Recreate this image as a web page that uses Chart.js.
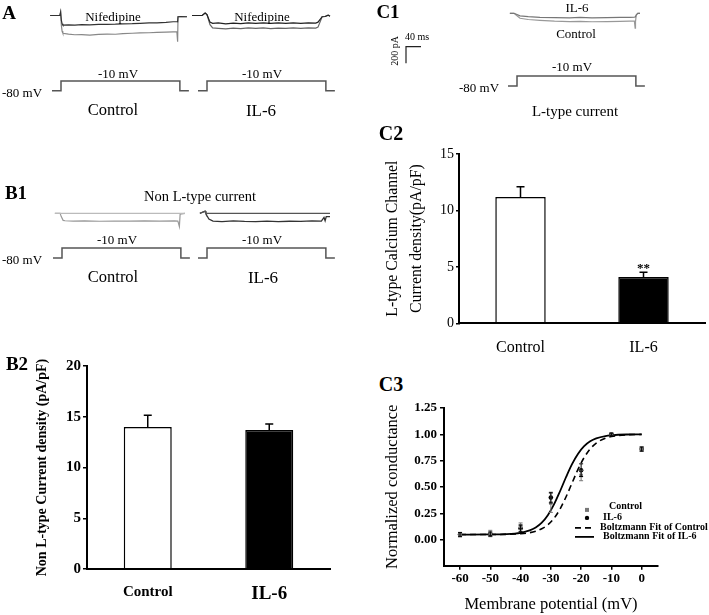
<!DOCTYPE html>
<html>
<head>
<meta charset="utf-8">
<title>IL-6 and calcium currents</title>
<script src="https://cdn.jsdelivr.net/npm/chart.js@4.4.1/dist/chart.umd.min.js"></script>
<style>
  html, body { margin: 0; padding: 0; background: #fff; }
  #fig { position: relative; width: 709px; height: 615px; overflow: hidden; font-family: 'Liberation Serif', 'Times New Roman', serif; color: #000; }
  #fig canvas { position: absolute; }
  .t { position: absolute; transform: translate(-50%, -50%); white-space: nowrap; line-height: 1; }
  .panel { font-weight: bold; font-size: 19px; }
</style>
</head>
<body>
<div id="fig">
  <canvas id="traceA" width="360" height="100" style="left:0;top:0"></canvas>
  <canvas id="traceB1" width="360" height="70" style="left:0;top:200px"></canvas>
  <canvas id="traceC1" width="349" height="95" style="left:360px;top:0"></canvas>
  <canvas id="barB2" width="360" height="275" style="left:0;top:340px"></canvas>
  <canvas id="barC2" width="349" height="220" style="left:360px;top:140px"></canvas>
  <canvas id="fitC3" width="349" height="220" style="left:360px;top:395px"></canvas>

  <!-- panel A -->
  <div class="t panel" style="left:9px;top:12px">A</div>
  <div class="t" style="left:113px;top:16px;font-size:13px">Nifedipine</div>
  <div class="t" style="left:262px;top:16px;font-size:13px">Nifedipine</div>
  <div class="t" style="left:118px;top:73px;font-size:13px">-10 mV</div>
  <div class="t" style="left:262px;top:73px;font-size:13px">-10 mV</div>
  <div class="t" style="left:22px;top:92px;font-size:13px">-80 mV</div>
  <div class="t" style="left:113px;top:110px;font-size:16.5px">Control</div>
  <div class="t" style="left:261px;top:110px;font-size:17px">IL-6</div>

  <!-- panel B1 -->
  <div class="t panel" style="left:16px;top:192px">B1</div>
  <div class="t" style="left:200px;top:196px;font-size:14.5px">Non L-type current</div>
  <div class="t" style="left:117px;top:239px;font-size:13px">-10 mV</div>
  <div class="t" style="left:262px;top:239px;font-size:13px">-10 mV</div>
  <div class="t" style="left:22px;top:259px;font-size:13px">-80 mV</div>
  <div class="t" style="left:113px;top:277px;font-size:16.5px">Control</div>
  <div class="t" style="left:263px;top:277px;font-size:17px">IL-6</div>

  <!-- panel C1 -->
  <div class="t panel" style="left:388px;top:11px">C1</div>
  <div class="t" style="left:577px;top:7px;font-size:13px">IL-6</div>
  <div class="t" style="left:576px;top:33px;font-size:13px">Control</div>
  <div class="t" style="left:417px;top:37px;font-size:10px">40 ms</div>
  <div class="t" style="left:395px;top:51px;font-size:10px;transform:translate(-50%,-50%) rotate(-90deg)">200 pA</div>
  <div class="t" style="left:572px;top:66px;font-size:13px">-10 mV</div>
  <div class="t" style="left:479px;top:87px;font-size:13px">-80 mV</div>
  <div class="t" style="left:575px;top:111px;font-size:15px">L-type current</div>

  <div class="t panel" style="left:17px;top:363px">B2</div>
  <div class="t panel" style="left:391px;top:133px;font-size:20px">C2</div>
  <div class="t panel" style="left:391px;top:384px;font-size:20px">C3</div>
</div>

<script>
/** scale bar of C1: 40 ms wide, 200 pA tall */
var scaleBarMs = 40
var scaleBarPa = 200

/** voltage step protocol (ms, mV) */
var stepT = [-24, 0, 0, 317, 317, 341]
var stepV = [-80, -80, -10, -10, -80, -80]

/** A, control cell: nifedipine trace and total current (ms, pA) */
var aCtlT = [-29, -3, -1, 1, 3, 5, 20, 37, 55, 77, 100, 123, 145, 165, 190, 211, 235, 256, 280, 299, 309, 311, 312, 313, 320, 336]
var aCtlNif = [0, 0, 40, -60, -100, -115, -112, -116, -110, -113, -108, -106, -104, -100, -98, -94, -90, -88, -82, -75, -75, -76, -15, -15, -12, -15]
var aCtlCur = [0, 0, 40, -120, -190, -215, -225, -232, -230, -236, -228, -224, -226, -218, -214, -210, -208, -203, -200, -198, -196, -317, -15, -15, -12, -15]

/** A, IL-6 cell */
var aIl6T = [-40, -13, -5, 0, 8, 15, 30, 50, 70, 90, 110, 130, 150, 170, 190, 210, 230, 250, 270, 290, 296, 307, 315, 323, 328]
var aIl6Nif = [0, 0, 30, 10, -80, -95, -90, -100, -92, -98, -90, -96, -88, -95, -90, -94, -88, -95, -90, -92, -80, -15, -12, 5, -10]
var aIl6Cur = [0, 0, 30, 10, -110, -150, -155, -160, -152, -158, -150, -156, -150, -158, -152, -155, -148, -154, -150, -152, -140, -15, -12, 5, -10]

/** B1, non L-type current */
var b1CtlT = [-19, -5, -2, 3, 8, 30, 60, 100, 140, 180, 220, 260, 300, 309, 313, 315, 328]
var b1CtlFlat = [0, 0, 0, 0, 0, 0, 0, 0, 0, 0, 0, 0, 0, 0, 0, 0, 0]
var b1CtlCur = [0, 0, -40, -85, -90, -95, -92, -96, -93, -95, -92, -94, -92, -95, -160, -10, 0]
var b1Il6T = [-19, -5, -3, 0, 5, 16, 40, 70, 100, 130, 160, 190, 220, 250, 280, 305, 312, 315, 318, 328]
var b1Il6Flat = [0, 25, 0, 0, 0, 0, 0, 0, 0, 0, 0, 0, 0, 0, 0, 0, 0, 0, 0, 0]
var b1Il6Cur = [0, 25, 0, -30, -70, -95, -100, -92, -98, -100, -95, -100, -96, -98, -92, -95, -50, -90, -40, -40]

/** C1, L-type current */
var c1T = [-19, -8, 0, 8, 30, 61, 100, 140, 168, 200, 240, 275, 300, 313, 315, 316, 318, 322, 328]
var c1Il6 = [0, 0, -15, -30, -40, -48, -52, -55, -50, -55, -52, -50, -48, -45, -42, -40, -20, 0, 0]
var c1Ctl = [0, 0, -30, -60, -75, -85, -95, -100, -98, -102, -100, -97, -95, -93, -180, -100, -20, 0, 0]

/** B2: non L-type current density (pA/pF) */
var b2Groups = ['Control', 'IL-6']
var b2Mean = [14.0, 13.7]
var b2Sem = [1.15, 0.58]

/** C2: L-type current density (pA/pF) */
var c2Groups = ['Control', 'IL-6']
var c2Mean = [11.2, 4.1]
var c2Sem = [0.9, 0.42]
var c2Marks = ['', '**']

/** C3: normalized conductance */
var c3Volt = [-60, -50, -40, -30, -20, -10, 0]
var c3Ctl = [0.05, 0.06, 0.13, 0.35, 0.61, 1.0, 0.86]
var c3CtlErr = [0.02, 0.03, 0.03, 0.09, 0.05, 0.01, 0.02]
var c3Il6 = [0.05, 0.055, 0.11, 0.40, 0.66, 1.0, 0.86]
var c3Il6Err = [0.02, 0.02, 0.03, 0.05, 0.06, 0.01, 0.02]
var c3FitV = [-60, -50, -45, -40, -37, -35, -33, -31, -29, -27, -25, -23, -21, -19, -17, -15, -12, -10, -5, 0]
var c3FitCtl = [0.05, 0.05, 0.052, 0.058, 0.068, 0.082, 0.105, 0.142, 0.202, 0.29, 0.406, 0.538, 0.67, 0.78, 0.862, 0.917, 0.963, 0.979, 0.995, 0.999]
var c3FitIl6 = [0.05, 0.051, 0.054, 0.067, 0.089, 0.117, 0.163, 0.234, 0.333, 0.458, 0.593, 0.717, 0.816, 0.887, 0.933, 0.961, 0.983, 0.99, 0.998, 1.0]
var c3XTicks = [-60, -50, -40, -30, -20, -10, 0]
var c3YTicks = [0, 0.25, 0.5, 0.75, 1, 1.25]

var SERIF = "'Liberation Serif', 'Times New Roman', serif"

var figure = {
    msPerPx: scaleBarMs / 15,
    paPerPx: scaleBarPa / 16.6,
    init: function () {
        Chart.defaults.font.family = SERIF
        Chart.defaults.color = '#000'
        figure.funcs.drawTraces()
        figure.funcs.drawBars()
        figure.funcs.drawFits()
    },
    plugins: {
        /** error bars (and significance marks) from the dataset's errors array */
        errorBars: {
            id: 'errorBars',
            afterDatasetsDraw: function (chart) {
                var ctx = chart.ctx
                var y = chart.scales.y
                chart.data.datasets.forEach(function (ds, di) {
                    if (!ds.errors) return
                    var meta = chart.getDatasetMeta(di)
                    var cap = (ds.errorCap || 8) / 2
                    ctx.save()
                    ctx.strokeStyle = ds.errorColor || '#000'
                    ctx.lineWidth = ds.errorWidth || 1
                    meta.data.forEach(function (el, k) {
                        var raw = ds.data[k]
                        var v = typeof raw === 'object' ? raw.y : raw
                        var top = y.getPixelForValue(v + ds.errors[k])
                        var bottom = ds.errorBoth ? y.getPixelForValue(v - ds.errors[k]) : el.y
                        ctx.beginPath()
                        ctx.moveTo(el.x, bottom)
                        ctx.lineTo(el.x, top)
                        ctx.moveTo(el.x - cap, top)
                        ctx.lineTo(el.x + cap, top)
                        if (ds.errorBoth) {
                            ctx.moveTo(el.x - cap, bottom)
                            ctx.lineTo(el.x + cap, bottom)
                        }
                        ctx.stroke()
                        if (ds.marks && ds.marks[k]) {
                            ctx.fillStyle = '#000'
                            ctx.font = 'bold 13px ' + SERIF
                            ctx.textAlign = 'center'
                            ctx.textBaseline = 'alphabetic'
                            ctx.fillText(ds.marks[k], el.x, top)
                        }
                    })
                    ctx.restore()
                })
            }
        },
        /** L-shaped calibration bar, lengths go through the chart scales */
        scaleBar: {
            id: 'scaleBar',
            afterDatasetsDraw: function (chart, args, opts) {
                if (!opts || opts.x === undefined) return
                var xs = chart.scales.x, is = chart.scales.i
                var w = xs.getPixelForValue(scaleBarMs) - xs.getPixelForValue(0)
                var h = is.getPixelForValue(0) - is.getPixelForValue(scaleBarPa)
                var ctx = chart.ctx
                ctx.save()
                ctx.strokeStyle = '#222'
                ctx.lineWidth = 1.2
                ctx.beginPath()
                ctx.moveTo(opts.x + w, opts.y)
                ctx.lineTo(opts.x, opts.y)
                ctx.lineTo(opts.x, opts.y + h)
                ctx.stroke()
                ctx.restore()
            }
        },
        /** legend of C3, drawn inside the plot */
        c3Legend: {
            id: 'c3Legend',
            afterDatasetsDraw: function (chart) {
                var ctx = chart.ctx
                var a = chart.chartArea
                var ds = chart.data.datasets
                var x = a.left, y = a.top
                ctx.save()
                ctx.font = 'bold 10px ' + SERIF
                ctx.textBaseline = 'middle'
                ctx.textAlign = 'left'
                /** markers */
                ctx.fillStyle = ds[0].backgroundColor
                ctx.fillRect(x + 141, y + 100, 4, 4)
                ctx.fillStyle = ds[1].backgroundColor
                ctx.beginPath()
                ctx.arc(x + 143, y + 110, 2.2, 0, Math.PI * 2)
                ctx.fill()
                /** line samples */
                ctx.strokeStyle = '#000'
                ctx.lineWidth = ds[2].borderWidth
                ctx.setLineDash(ds[2].borderDash)
                ctx.beginPath()
                ctx.moveTo(x + 131, y + 120)
                ctx.lineTo(x + 150, y + 120)
                ctx.stroke()
                ctx.setLineDash([])
                ctx.lineWidth = ds[3].borderWidth
                ctx.beginPath()
                ctx.moveTo(x + 131, y + 129)
                ctx.lineTo(x + 150, y + 129)
                ctx.stroke()
                /** texts */
                ctx.fillStyle = '#000'
                ctx.fillText(ds[0].label, x + 165, y + 99)
                ctx.fillText(ds[1].label, x + 159, y + 110)
                ctx.fillText(ds[2].label, x + 156, y + 120)
                ctx.fillText(ds[3].label, x + 159, y + 129)
                ctx.restore()
            }
        }
    },
    funcs: {
        pts: function (xs, ys, offset) {
            return xs.map(function (x, k) {
                return {x: x + (offset || 0), y: ys[k]}
            })
        },
        line: function (xs, ys, offset, axis, color, width) {
            return {
                data: figure.funcs.pts(xs, ys, offset),
                yAxisID: axis,
                borderColor: color,
                borderWidth: width,
                pointRadius: 0,
                fill: false,
                tension: 0
            }
        },
        /** geo: t0 = onset pixel, i0 = zero-current pixel, v80/v10 = step pixels */
        traceChart: function (id, geo, datasets, extra) {
            var canvas = document.getElementById(id)
            var w = canvas.width, h = canvas.height
            var mvPerPx = 70 / (geo.v80 - geo.v10)
            return new Chart(canvas, {
                type: 'line',
                data: {datasets: datasets},
                options: {
                    responsive: false,
                    animation: false,
                    layout: {padding: 0},
                    plugins: {legend: {display: false}, tooltip: {enabled: false}, scaleBar: extra || {}},
                    scales: {
                        x: {type: 'linear', display: false, min: -geo.t0 * figure.msPerPx, max: (w - geo.t0) * figure.msPerPx},
                        i: {type: 'linear', axis: 'y', display: false, min: -(h - geo.i0) * figure.paPerPx, max: geo.i0 * figure.paPerPx},
                        v: {type: 'linear', axis: 'y', display: false, min: -80 - (h - geo.v80) * mvPerPx, max: -80 + geo.v80 * mvPerPx}
                    }
                },
                plugins: [figure.plugins.scaleBar]
            })
        },
        drawTraces: function () {
            var L = figure.funcs.line
            var offA = 146 * figure.msPerPx
            var offB = 145 * figure.msPerPx
            figure.funcs.traceChart('traceA', {t0: 61, i0: 15.5, v80: 90.7, v10: 81}, [
                L(aCtlT, aCtlNif, 0, 'i', '#333', 1.2),
                L(aCtlT, aCtlCur, 0, 'i', '#888', 1.2),
                L(aIl6T, aIl6Nif, offA, 'i', '#222', 1.2),
                L(aIl6T, aIl6Cur, offA, 'i', '#666', 1.2),
                L(stepT, stepV, 0, 'v', '#555', 1.5),
                L(stepT, stepV, offA, 'v', '#555', 1.5)
            ])
            figure.funcs.traceChart('traceB1', {t0: 62, i0: 13.3, v80: 58, v10: 48}, [
                L(b1CtlT, b1CtlFlat, 0, 'i', '#bbb', 1.2),
                L(b1CtlT, b1CtlCur, 0, 'i', '#999', 1.2),
                L(b1Il6T, b1Il6Flat, offB, 'i', '#555', 1.2),
                L(b1Il6T, b1Il6Cur, offB, 'i', '#333', 1.3),
                L(stepT, stepV, 0, 'v', '#555', 1.5),
                L(stepT, stepV, offB, 'v', '#555', 1.5)
            ])
            figure.funcs.traceChart('traceC1', {t0: 157, i0: 13.3, v80: 86, v10: 76}, [
                L(c1T, c1Il6, 0, 'i', '#777', 1.2),
                L(c1T, c1Ctl, 0, 'i', '#999', 1.2),
                L(stepT, stepV, 0, 'v', '#555', 1.5)
            ], {x: 46, y: 46.7})
        },
        barChart: function (id, o) {
            return new Chart(document.getElementById(id), {
                type: 'bar',
                data: {
                    labels: o.labels,
                    datasets: [{
                        data: o.mean,
                        errors: o.sem,
                        marks: o.marks || [],
                        errorCap: 8,
                        errorWidth: 1.5,
                        backgroundColor: ['#fff', '#000'],
                        borderColor: '#000',
                        borderWidth: 1.5,
                        barPercentage: o.barPct,
                        categoryPercentage: 1
                    }]
                },
                options: {
                    responsive: false,
                    animation: false,
                    layout: {padding: {left: 0, top: o.padTop, right: o.padRight, bottom: 0}},
                    plugins: {legend: {display: false}, tooltip: {enabled: false}},
                    scales: {
                        x: {
                            grid: {display: false},
                            border: {color: '#000', width: 2, z: 1},
                            ticks: {color: '#000', padding: o.xPad, font: o.xFont},
                            afterFit: function (s) { s.height = o.xHeight }
                        },
                        y: {
                            min: 0,
                            max: o.yMax,
                            grid: {drawOnChartArea: false, tickLength: o.tickLen, color: '#000', lineWidth: 1.5},
                            border: {color: '#000', width: 2, z: 1},
                            ticks: {stepSize: o.step, color: '#000', padding: 2, font: o.yFont},
                            title: {display: true, text: o.title, color: '#000', font: o.titleFont, padding: {top: o.titlePad, bottom: 0}},
                            afterFit: function (s) { s.width = o.yWidth }
                        }
                    }
                },
                plugins: [figure.plugins.errorBars]
            })
        },
        drawBars: function () {
            figure.funcs.barChart('barB2', {
                labels: b2Groups, mean: b2Mean, sem: b2Sem,
                yMax: 20, step: 5, barPct: 0.395,
                padTop: 26, padRight: 30, yWidth: 87, xHeight: 46, xPad: 6, tickLen: 4,
                xFont: function (c) { return {family: SERIF, weight: 'bold', size: c.index === 1 ? 19 : 15} },
                yFont: {family: SERIF, weight: 'bold', size: 15},
                title: 'Non L-type Current density (pA/pF)',
                titleFont: {family: SERIF, weight: 'bold', size: 14},
                titlePad: 33.6
            })
            figure.funcs.barChart('barC2', {
                labels: c2Groups, mean: c2Mean, sem: c2Sem, marks: c2Marks,
                yMax: 15, step: 5, barPct: 0.41,
                padTop: 14, padRight: 4, yWidth: 99, xHeight: 36.7, xPad: 7, tickLen: 3,
                xFont: {family: SERIF, size: 16},
                yFont: {family: SERIF, size: 14},
                title: ['L-type Calcium Channel', 'Current density(pA/pF)'],
                titleFont: {family: SERIF, size: 15.8, lineHeight: 1.52},
                titlePad: 21
            })
        },
        drawFits: function () {
            var P = figure.funcs.pts
            new Chart(document.getElementById('fitC3'), {
                type: 'scatter',
                data: {
                    datasets: [
                        {label: 'Control', data: P(c3Volt, c3Ctl), errors: c3CtlErr, errorBoth: true, errorColor: '#777', errorCap: 4, errorWidth: 1,
                            pointStyle: 'rect', pointRadius: 2.5, backgroundColor: '#777', borderColor: '#777', borderWidth: 0},
                        {label: 'IL-6', data: P(c3Volt, c3Il6), errors: c3Il6Err, errorBoth: true, errorColor: '#000', errorCap: 4, errorWidth: 1,
                            pointStyle: 'circle', pointRadius: 2.3, backgroundColor: '#000', borderColor: '#000', borderWidth: 0},
                        {label: 'Boltzmann Fit of Control', data: P(c3FitV, c3FitCtl), showLine: true, pointRadius: 0,
                            borderColor: '#000', borderWidth: 1.6, borderDash: [6, 4], cubicInterpolationMode: 'monotone'},
                        {label: 'Boltzmann Fit of IL-6', data: P(c3FitV, c3FitIl6), showLine: true, pointRadius: 0,
                            borderColor: '#000', borderWidth: 1.8, cubicInterpolationMode: 'monotone'}
                    ]
                },
                options: {
                    responsive: false,
                    animation: false,
                    layout: {padding: {left: 0, top: 12.9, right: 51, bottom: 0}},
                    plugins: {legend: {display: false}, tooltip: {enabled: false}},
                    scales: {
                        x: {
                            type: 'linear', min: -65.3, max: 5.4,
                            afterBuildTicks: function (s) { s.ticks = c3XTicks.map(function (v) { return {value: v} }) },
                            grid: {drawOnChartArea: false, tickLength: 4, color: '#000', lineWidth: 1.5},
                            border: {color: '#000', width: 2, z: 1},
                            ticks: {color: '#000', padding: 1.5, maxRotation: 0, autoSkip: false, font: {family: SERIF, weight: 'bold', size: 13}},
                            title: {display: true, text: 'Membrane potential (mV)', color: '#000', font: {family: SERIF, size: 16.5}, padding: {top: 0, bottom: 0.1}},
                            afterFit: function (s) { s.height = 49.3 }
                        },
                        y: {
                            min: -0.245, max: 1.25,
                            afterBuildTicks: function (s) { s.ticks = c3YTicks.map(function (v) { return {value: v} }) },
                            grid: {drawOnChartArea: false, tickLength: 4, color: '#000', lineWidth: 1.5},
                            border: {color: '#000', width: 2, z: 1},
                            ticks: {color: '#000', padding: 3, font: {family: SERIF, weight: 'bold', size: 13},
                                callback: function (v) { return Number(v).toFixed(2) }},
                            title: {display: true, text: 'Normalized conductance', color: '#000', font: {family: SERIF, size: 16.5}, padding: {top: 23.1, bottom: 0}},
                            afterFit: function (s) { s.width = 84 }
                        }
                    }
                },
                plugins: [figure.plugins.errorBars, figure.plugins.c3Legend]
            })
        }
    }
}

figure.init()
</script>
</body>
</html>
